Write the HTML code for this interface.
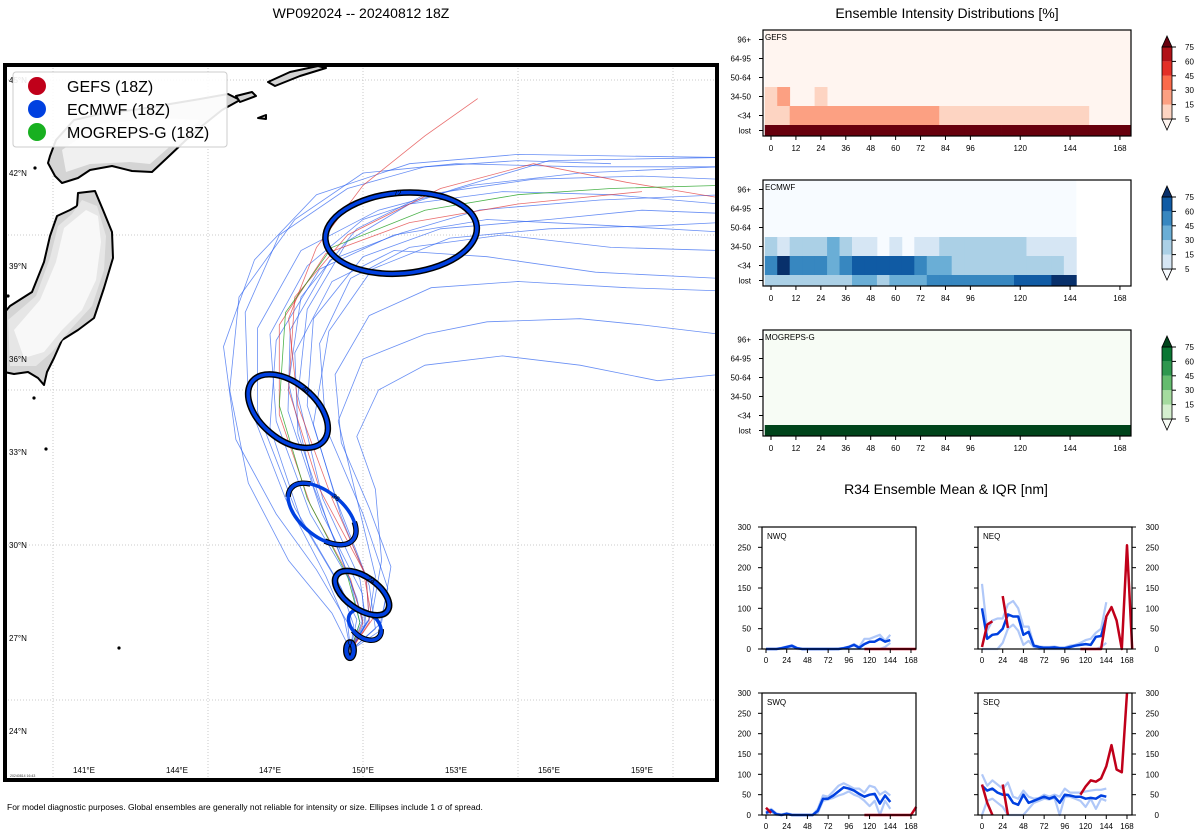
<!DOCTYPE html>
<html><head><meta charset="utf-8">
<style>
html,body{margin:0;padding:0;background:#fff;}
svg{display:block;font-family:"Liberation Sans","DejaVu Sans",sans-serif;}
</style></head>
<body>
<svg id="root" width="1200" height="840" viewBox="0 0 1200 840" xmlns="http://www.w3.org/2000/svg">
<defs><clipPath id="mapclip"><rect x="5" y="65" width="712" height="715"/></clipPath></defs>
<text x="361" y="18" text-anchor="middle" font-size="14">WP092024 -- 20240812 18Z</text>
<text x="947" y="18" text-anchor="middle" font-size="14">Ensemble Intensity Distributions [%]</text>
<text x="946" y="494" text-anchor="middle" font-size="14">R34 Ensemble Mean &amp; IQR [nm]</text>
<text x="7" y="810" font-size="8.5">For model diagnostic purposes. Global ensembles are generally not reliable for intensity or size. Ellipses include 1 σ of spread.</text>
<g id="map" clip-path="url(#mapclip)"></g>
<rect x="5" y="65" width="712" height="715" fill="none" stroke="#000" stroke-width="4"/>
<g id="maplabels"></g>
<g id="legend">
<rect x="13" y="72" width="214" height="75" rx="3" fill="#fff" fill-opacity="0.9" stroke="#ccc"/>
<circle cx="37" cy="86" r="9" fill="#c0001a"/>
<text x="67" y="92" font-size="16">GEFS (18Z)</text>
<circle cx="37" cy="109" r="9" fill="#0040e0"/>
<text x="67" y="115" font-size="16">ECMWF (18Z)</text>
<circle cx="37" cy="132" r="9" fill="#18b020"/>
<text x="67" y="138" font-size="16">MOGREPS-G (18Z)</text>
</g>
<text x="10" y="777" font-size="3.5" fill="#333">20240814 16:43</text>
<g id="heat"></g>
<g id="r34"></g>
</svg>
<script>
// ---------- MAP DATA ----------
const blueTracks = [
 [[149.6,26.6],[150.06,27.42],[149.97,28.45],[148.68,31.0],[147.58,34.32],[147.65,36.94],[148.94,39.19],[151.23,40.06],[153.77,40.81],[157.65,41.13],[161.42,41.29]],
 [[149.6,26.6],[149.8,27.6],[149.2,28.8],[147.8,31.2],[146.6,34.3],[146.6,37.0],[148.0,39.5],[150.5,40.8],[153.5,41.6],[157,42],[161.5,42.2]],
 [[149.6,26.6],[150.2,27.6],[150.4,29],[149.8,31.5],[149.2,34],[150,36],[152,36.8],[154,37.2],[157,37.3],[159,37.1],[161.5,36.8]],
 [[149.6,26.6],[149.9,27.5],[149.6,28.8],[148.3,31.0],[147.2,34.0],[147.0,36.8],[148.2,39.0],[150.0,40.5],[153,41.5],[156,42.4],[161.5,42.5]],
 [[149.6,26.6],[150.2,27.6],[150.1,29],[149.2,31.3],[148.2,34.5],[148.4,37.3],[150,39.3],[152.5,40.2],[156,40.5],[159,40.8],[161.5,40.7]],
 [[149.6,26.6],[149.0,27.8],[147.6,29.5],[146.3,32],[145.7,35],[146,38],[147.8,40.5],[150,42],[153,42.3],[157,42.2],[161.5,42.2]],
 [[149.6,26.6],[150.5,27.2],[150.8,28.6],[150.0,31.0],[148.8,33.8],[148.6,36.5],[149.6,38.6],[151.5,39.6],[154.5,40.0],[158,39.6],[161.5,39.5]],
 [[149.6,26.6],[150.0,27.4],[149.8,28.3],[148.9,30.6],[147.9,33.6],[147.8,36.2],[149.0,38.5],[151,39.5],[154,39.3],[157.5,38.8],[161.5,38.6]],
 [[149.6,26.6],[149.4,27.6],[148.8,29.0],[147.5,31.5],[146.3,34.6],[146.2,37.5],[147.3,40.0],[149.5,41.5],[152,42.2],[155,42.4],[158,42.3]],
 [[149.6,26.6],[150.3,27.8],[150.6,29.5],[150.4,31.8],[149.8,33.5],[150.5,35.0],[152,35.8],[154.5,36.1],[157,35.8],[159.5,35.3],[161.5,35.5]],
 [[149.6,26.6],[150.1,27.5],[149.9,28.9],[148.7,31.5],[147.9,34.8],[148.2,37.6],[149.5,39.8],[151.5,41],[154.5,41.4],[158,41.3],[161.5,41.0]],
 [[149.6,26.6],[149.7,27.4],[149.3,28.6],[148.0,30.8],[147.0,33.8],[147.2,36.6],[148.6,38.9],[151,40],[154,40.5],[158,40.3],[161.5,40.1]],
 [[149.6,26.6],[150.4,27.3],[150.2,28.7],[149.3,30.9],[148.4,33.9],[148.9,36.9],[150.3,38.9],[152.8,39.9],[156,40.2],[159.5,40.3],[161.5,40.4]],
 [[149.6,26.6],[149.5,27.5],[148.5,29.2],[147.2,31.0],[145.9,33.4],[145.5,36.4],[146.5,39.2],[148.5,41.3],[151.5,42.3],[155,42.6],[161.5,42.5]],
 [[149.6,26.6],[150.0,27.6],[149.5,29.1],[148.4,31.9],[147.6,35.2],[148.0,38.0],[149.8,40.2],[152.0,41.3],[155.5,41.8],[159,41.9],[161.5,41.8]],
 [[149.6,26.6],[150.6,27.5],[150.9,29.3],[150.2,31.2],[149.3,33.3],[149.1,35.5],[150.2,37.4],[152.2,38.3],[155,38.5],[158.5,38.3],[161.5,38.2]]
];
const redTracks = [
 [[149.6,26.6],[150.2,27.5],[150.1,29],[149.0,31.5],[147.9,34.5],[147.6,37.3],[148.5,39.6],[150,41.6],[152,43.2],[153.7,44.4]],
 [[149.6,26.6],[150.3,27.6],[150.0,29.2],[148.6,31.8],[147.6,35],[147.8,38],[149.5,40],[152.5,41.5],[155.5,42.3],[158.5,41.7],[161.5,41.2]],
 [[149.6,26.6],[150.0,27.5],[149.6,28.9],[148.3,31.3],[147.3,34.2],[147.3,37.1],[148.8,39.4],[151.5,40.4],[155,41],[159,41.4]]
];
const greenTracks = [
 [[149.6,26.6],[149.9,27.5],[149.5,29],[148.2,31.5],[147.3,34.5],[147.5,37.5],[149,39.6],[152,40.8],[155,41.3],[158,41.5],[161.5,41.6]]
];
const ellHours = [0,12,24,36,48,72];
const ellLon = [149.58,150.06,149.97,148.68,147.58,151.23];
const ellLat = [26.61,27.42,28.45,31.0,34.32,40.06];
const ellRx = [0.12,0.6,1.0,1.3,1.5,2.45];
const ellRy = [0.25,0.4,0.52,0.7,0.9,1.3];
const ellRot = [0,40,35,40,40,-5];

const lonX = lon => 84 + (lon-141)*31;
const latY = lat => 80 + (45-lat)*31;
const NS = "http://www.w3.org/2000/svg";
function mk(tag, attrs, parent){const e=document.createElementNS(NS,tag);for(const k in attrs)e.setAttribute(k,attrs[k]);parent.appendChild(e);return e;}

const map = document.getElementById('map');
for(let lon=140;lon<=160;lon+=5){const g=mk('line',{x1:lonX(lon),x2:lonX(lon),y1:65,y2:780,stroke:'#bbb','stroke-width':0.8,'stroke-dasharray':'1,2'},map);

}
for(let lat=25;lat<=45;lat+=5){const g=mk('line',{x1:5,x2:717,y1:latY(lat),y2:latY(lat),stroke:'#bbb','stroke-width':0.8,'stroke-dasharray':'1,2'},map);

}
const landStyle={fill:'#d4d4d4',stroke:'#000','stroke-width':2,'stroke-linejoin':'round'};
const honshu="M78,193 L95,191 L103,210 L112,232 L113,258 L104,288 L94,318 L78,330 L62,340 L54,358 L47,372 L44,385 L38,378 L28,372 L14,374 L4,372 L0,372 L0,318 L10,306 L32,292 L44,262 L50,236 L57,216 L70,210 L77,206 Z";
let l=mk('path',Object.assign({d:honshu},landStyle),map);


mk('path',{d:"M82,200 L97,206 L106,236 L104,270 L92,306 L70,330 L52,352 L36,366 L10,366 L8,320 L36,296 L50,258 L58,226 L72,214 Z",fill:'#e6e6e6'},map);
mk('path',{d:"M86,210 L98,216 L101,242 L96,280 L82,310 L62,330 L44,352 L24,358 L14,330 L40,300 L56,262 L64,228 Z",fill:'#f8f8f8'},map);
const hokk="M50,156 L48,163 L55,176 L62,183 L78,178 L90,170 L112,166 L132,171 L152,172 L167,158 L186,140 L202,126 L222,110 L240,100 L228,94 L200,99 L170,104 L140,109 L100,114 L74,120 L56,140 Z";
l=mk('path',Object.assign({d:hokk},landStyle),map);


mk('path',{d:"M62,150 L66,172 L90,164 L130,162 L150,164 L175,142 L200,120 L160,118 L100,124 Z",fill:'#f0f0f0'},map);
l=mk('path',Object.assign({d:"M268,82 L290,72 L318,66 L326,68 L300,76 L275,86 Z"},landStyle),map);


l=mk('path',Object.assign({d:"M236,96 L252,92 L256,96 L240,102 Z"},landStyle),map);


l=mk('path',Object.assign({d:"M258,118 L266,115 L266,119 Z"},landStyle),map);


[[35,168],[34,398],[46,449],[119,648],[8,296]].forEach(p=>{const c=mk('circle',{cx:p[0],cy:p[1],r:1.6,fill:'#000'},map);

});
function drawTracks(arr,color,w,op,name){arr.forEach(t=>{const pts=t.map(p=>lonX(p[0]).toFixed(1)+','+latY(p[1]).toFixed(1)).join(' ');
const pl=mk('polyline',{points:pts,fill:'none',stroke:color,'stroke-width':w,'stroke-opacity':op},map);

});}
drawTracks(blueTracks,'#2a5ff0',0.8,0.7,'ecmwf-track');
drawTracks(redTracks,'#e03030',0.8,0.7,'gefs-track');
drawTracks(greenTracks,'#20a020',0.8,0.8,'mogreps-track');
ellHours.forEach((h,i)=>{const cx=lonX(ellLon[i]),cy=latY(ellLat[i]),rx=ellRx[i]*31,ry=ellRy[i]*31;
const g=mk('g',{transform:`rotate(${ellRot[i]} ${cx} ${cy})`},map);


const black=[0,24,48,72].includes(h);
if(black) mk('ellipse',{cx,cy,rx,ry,fill:'none',stroke:'#000','stroke-width':6.5},g);
else mk('ellipse',{cx,cy,rx,ry,fill:'none',stroke:'#000','stroke-width':5.5,'stroke-dasharray':'30,60'},g);
mk('ellipse',{cx,cy,rx,ry,fill:'none',stroke:'#0040e0','stroke-width':h===0?4:3.5},g);
const t=mk('text',{x:cx,y:cy-ry+2.5,'text-anchor':'middle','font-size':7,fill:'#000'},g);
t.textContent=h;

});
const ml=document.getElementById('maplabels');
[45,42,39,36,33,30,27,24].forEach(lat=>{const t=mk('text',{x:9,y:latY(lat)+3,'font-size':8},ml);t.textContent=lat+'°N';

});
[141,144,147,150,153,156,159].forEach(lon=>{const t=mk('text',{x:lonX(lon),y:773,'font-size':8,'text-anchor':'middle'},ml);t.textContent=lon+'°E';

});

// ---------- HEATMAP DATA ----------
const rowLabels = ['96+','64-95','50-64','34-50','<34','lost'];
const gefsRow3450 = [1,2,0,0,1,0,0,0,0,0,0,0,0,0,0,0,0,0,0,0,0,0,0,0,0,0,0,0,0,0];
const gefsRowLt34 = [1,1,2,2,2,2,2,2,2,2,2,2,2,2,1,1,1,1,1,1,1,1,1,1,1,1,0,0,0,0];
const gefsRowLost = [6,6,6,6,6,6,6,6,6,6,6,6,6,6,6,6,6,6,6,6,6,6,6,6,6,6,6,6,6,6];
const ecRow3450 = [2,1,2,2,2,3,2,1,1,0,1,0,1,1,2,2,2,2,2,2,2,1,1,1,1];
const ecRowLt34 = [4,6,4,4,4,3,4,5,5,5,5,5,4,3,3,2,2,2,2,2,2,2,2,2,1];
const ecRowLost = [2,2,2,2,2,2,2,3,3,2,3,3,3,4,4,4,4,4,4,4,5,5,5,6,6];
const mgRowLost = [6,6,6,6,6,6,6,6,6,6,6,6,6,6,6,6,6,6,6,6,6,6,6,6,6,6,6,6,6,6];
const heatTicks = [0,12,24,36,48,60,72,84,96,120,144,168];
const cbTicks = [5,15,30,45,60,75];
const reds = ['#fff5f0','#fdd4c2','#fca082','#fb6a4a','#e32f27','#b11218','#67000d'];
const blues = ['#f7fbff','#d6e6f4','#abd0e6','#6aaed6','#3787c0','#105ba4','#08306b'];
const greens = ['#f7fcf5','#d5efcf','#a5db9f','#64bc6e','#2e974e','#0a7633','#00441b'];

const heat=document.getElementById('heat');
const hx = h => 771 + h*2.077;
const rowTop=[0,19,38,57,76,95], rowH=[19,19,19,19,19,11];
function heatPanel(y0,name,cmap,rows,bgEnd){
 const g=mk('g',{},heat);
 
 
 mk('rect',{x:hx(-3),y:y0,width:Math.min(hx(bgEnd),1131)-hx(-3),height:95,fill:cmap[0]},g);
 rows.forEach((r,ri)=>{ if(!r) return; r.forEach((v,i)=>{ if(v===0) return;
  const x1=hx(i*6-3), x2=Math.min(hx(i*6+3)+0.4,1131);
  if(x2<=x1) return;
  const c=mk('rect',{x:x1,y:y0+rowTop[ri],width:x2-x1,height:rowH[ri],fill:cmap[v]},g);
  
  });});
 mk('rect',{x:763,y:y0,width:368,height:106,fill:'none',stroke:'#000','stroke-width':1.2},g);
 const tl=mk('text',{x:765,y:y0+10,'font-size':8},g);tl.textContent=name;
 rowLabels.forEach((lab,ri)=>{const yy=y0+rowTop[ri]+rowH[ri]/2;
  mk('line',{x1:759,x2:763,y1:yy,y2:yy,stroke:'#000'},g);
  const t=mk('text',{x:751,y:yy+3,'font-size':8,'text-anchor':'end'},g);t.textContent=lab;
  
  });
 heatTicks.forEach(h=>{mk('line',{x1:hx(h),x2:hx(h),y1:y0+106,y2:y0+110,stroke:'#000'},g);
  const t=mk('text',{x:hx(h),y:y0+121,'font-size':8,'text-anchor':'middle'},g);t.textContent=h;
  
  });
 const cb=mk('g',{},g);
 
 
 const cy = idx => y0+17 + (5-idx)*14.4;
 mk('polygon',{points:`1162,${cy(0)} 1167,${cy(0)+11} 1172,${cy(0)}`,fill:cmap[0],stroke:'#000','stroke-width':0.8},cb);
 for(let i=0;i<5;i++){
  mk('rect',{x:1162,y:cy(i+1),width:10,height:14.4,fill:cmap[i+1]},cb);}
 mk('polygon',{points:`1162,${cy(5)} 1167,${cy(5)-11} 1172,${cy(5)}`,fill:cmap[6],stroke:'#000','stroke-width':0.8},cb);
 mk('rect',{x:1162,y:cy(5),width:10,height:cy(0)-cy(5),fill:'none',stroke:'#000','stroke-width':0.8},cb);
 cbTicks.forEach((v,i)=>{mk('line',{x1:1172,x2:1176,y1:cy(i),y2:cy(i),stroke:'#000'},cb);
  const t=mk('text',{x:1185,y:cy(i)+3,'font-size':8},cb);t.textContent=v;});
}
heatPanel(30,'GEFS',reds,[null,null,null,gefsRow3450,gefsRowLt34,gefsRowLost],180);
heatPanel(180,'ECMWF',blues,[null,null,null,ecRow3450,ecRowLt34,ecRowLost],147);
heatPanel(330,'MOGREPS-G',greens,[null,null,null,null,null,mgRowLost],180);

// ---------- R34 DATA ----------
const r34Hours = [0,6,12,18,24,30,36,42,48,54,60,66,72,78,84,90,96,102,108,114,120,126,132,138,144,150,156,162,168,174];
const N=null;
const nwqEcMean=[0,0,0,2,5,8,2,0,0,0,0,0,0,0,0,2,5,10,3,12,18,18,25,18,22];
const nwqEcUp  =[0,0,0,3,6,9,3,0,0,0,0,0,0,0,1,3,6,12,5,25,25,30,35,20,35];
const nwqEcLo  =[0,0,0,0,3,4,0,0,0,0,0,0,0,0,0,0,0,0,0,0,0,0,0,5,15];
const nwqGefs  =[N,N,N,N,N,N,N,N,N,N,N,N,N,N,N,N,N,N,N,0,0,0,0,0,0,0,0,0,0,0];
const neqEcMean=[100,25,35,37,50,85,80,80,35,42,8,5,3,3,4,2,2,5,8,10,12,10,30,32,78];
const neqEcUp  =[160,45,70,75,75,110,118,100,55,55,10,6,5,5,6,4,4,8,10,15,22,25,40,50,115];
const neqEcLo  =[0,0,0,0,15,50,60,45,10,20,5,0,0,0,0,0,0,0,0,0,0,0,0,5,15];
const neqGefs  =[5,60,68,N,130,52,N,N,N,N,N,N,N,N,N,N,N,N,N,0,0,0,0,0,80,103,70,0,255,0];
const swqEcMean=[5,12,2,0,3,0,0,0,0,0,10,40,40,48,58,68,65,60,52,45,50,52,28,48,32];
const swqEcUp  =[8,15,4,1,5,1,0,0,0,0,15,48,45,58,72,78,72,65,65,55,72,68,50,58,48];
const swqEcLo  =[2,8,0,0,1,0,0,0,0,0,5,35,38,42,48,52,58,50,45,35,22,35,0,35,15];
const swqGefs  =[18,5,N,N,N,N,N,N,N,N,N,N,N,N,N,N,N,N,N,0,0,0,0,0,0,0,0,0,0,20];
const seqEcMean=[72,60,65,55,50,50,30,25,50,30,35,40,45,40,45,30,50,48,45,45,40,42,40,48,45];
const seqEcUp  =[100,72,85,75,65,80,45,40,60,45,40,42,50,45,50,45,65,55,55,55,58,60,62,62,65];
const seqEcLo  =[0,35,40,30,20,0,0,0,0,15,30,35,40,38,42,0,45,45,40,35,20,40,15,40,35];
const seqGefs  =[75,30,0,N,75,0,N,N,N,N,N,N,N,N,N,N,N,N,N,50,70,85,82,90,120,172,112,105,300,N];
const r34Xticks=[0,24,48,72,96,120,144,168];
const r34Yticks=[0,50,100,150,200,250,300];

const r34=document.getElementById('r34');
function r34Panel(x0,y0,name,side,series){
 const w=154,h=122;
 const X=hr=>x0+4+hr*0.863, Y=v=>y0+h-v/300*h;
 const g=mk('g',{},r34);
 
 
 const cid='c'+name;
 const cp=mk('clipPath',{id:cid},g);mk('rect',{x:x0,y:y0-2,width:w+2,height:h+4},cp);
 const inner=mk('g',{'clip-path':`url(#${cid})`},g);
 function line(arr,color,wd,op,nm){let seg=[];const segs=[];
  arr.forEach((v,i)=>{if(v===null){if(seg.length)segs.push(seg);seg=[];}else seg.push(X(r34Hours[i]).toFixed(1)+','+Y(v).toFixed(1));});
  if(seg.length)segs.push(seg);
  segs.forEach(s=>{const p=mk('polyline',{points:s.join(' '),fill:'none',stroke:color,'stroke-width':wd,'stroke-opacity':op,'stroke-linejoin':'round'},inner);
   
   });}
 line(series[1],'#8fb0f5',2.2,0.7,'ecmwf-iqr-upper');
 line(series[2],'#8fb0f5',2.2,0.7,'ecmwf-iqr-lower');
 line(series[0],'#0040e0',2.5,1,'ecmwf-mean');
 line(series[3],'#c0001a',2.5,1,'gefs-mean');
 mk('rect',{x:x0,y:y0,width:w,height:h,fill:'none',stroke:'#000','stroke-width':1.2},g);
 const t=mk('text',{x:x0+5,y:y0+12,'font-size':8},g);t.textContent=name;
 r34Xticks.forEach(hh=>{mk('line',{x1:X(hh),x2:X(hh),y1:y0+h,y2:y0+h+4,stroke:'#000'},g);
  const tt=mk('text',{x:X(hh),y:y0+h+14,'font-size':8,'text-anchor':'middle'},g);tt.textContent=hh;
  
  });
 r34Yticks.forEach(v=>{
  if(side==='left'){mk('line',{x1:x0-4,x2:x0,y1:Y(v),y2:Y(v),stroke:'#000'},g);
   const tt=mk('text',{x:x0-11,y:Y(v)+3,'font-size':8,'text-anchor':'end'},g);tt.textContent=v;
   
   }
  else{mk('line',{x1:x0+w,x2:x0+w+4,y1:Y(v),y2:Y(v),stroke:'#000'},g);
   const tt=mk('text',{x:x0+w+27,y:Y(v)+3,'font-size':8,'text-anchor':'end'},g);tt.textContent=v;
   
   
   mk('line',{x1:x0-4,x2:x0,y1:Y(v),y2:Y(v),stroke:'#000'},g);}
 });
}
r34Panel(762,527,'NWQ','left',[nwqEcMean,nwqEcUp,nwqEcLo,nwqGefs]);
r34Panel(978,527,'NEQ','right',[neqEcMean,neqEcUp,neqEcLo,neqGefs]);
r34Panel(762,693,'SWQ','left',[swqEcMean,swqEcUp,swqEcLo,swqGefs]);
r34Panel(978,693,'SEQ','right',[seqEcMean,seqEcUp,seqEcLo,seqGefs]);
</script>
</body></html>
